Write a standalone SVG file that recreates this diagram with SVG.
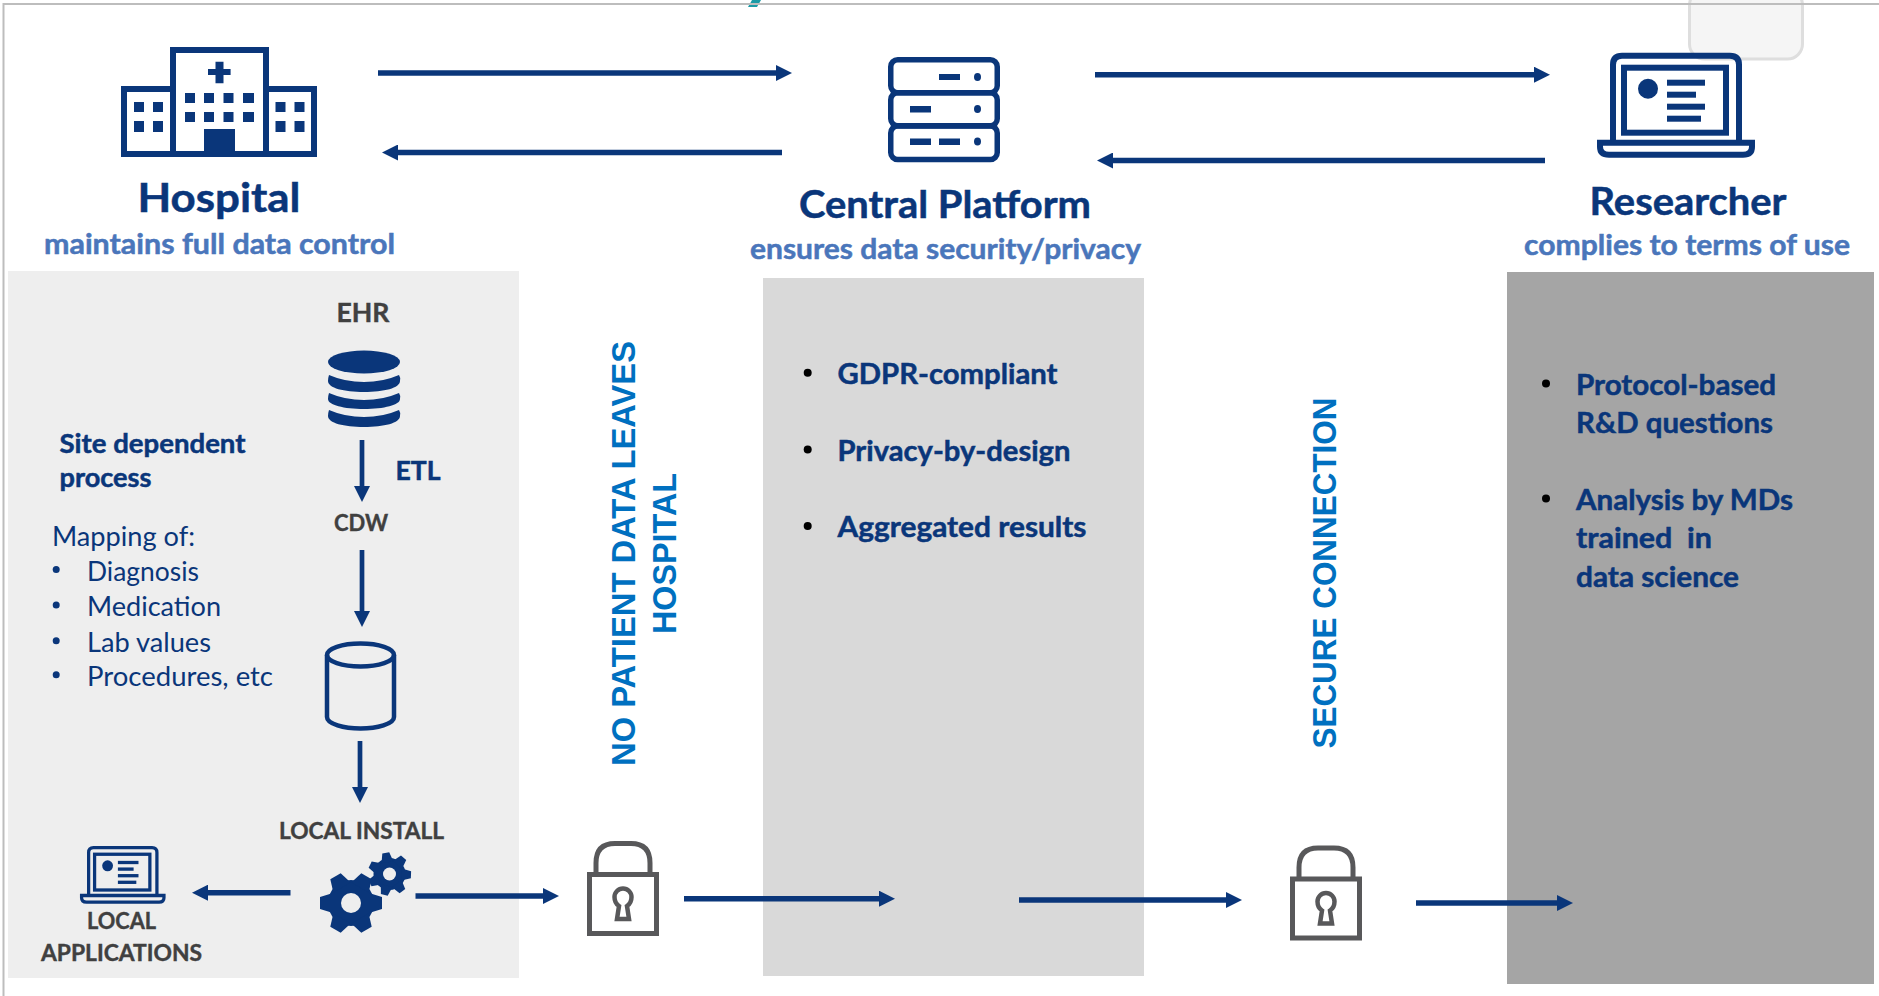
<svg xmlns="http://www.w3.org/2000/svg" xmlns:xlink="http://www.w3.org/1999/xlink" width="1879" height="996" viewBox="0 0 1879 996">
<style>
text{font-family:"Lato","Carlito","Open Sans",sans-serif}
.t{fill:#0a367a;stroke:#0a367a;stroke-width:.5px;font-weight:700;text-anchor:start}
.title{font-size:41px}
.sub{fill:#4a76bb;stroke:#4a76bb;stroke-width:.5px;font-weight:700;font-size:28px}
.item{fill:#0a367a;stroke:#0a367a;stroke-width:.5px;font-weight:700;font-size:28px}
.reg{fill:#0a367a;font-weight:400;font-size:27px}
.grey{fill:#404040;stroke:#404040;stroke-width:.4px;font-weight:700;font-size:23px}
.vert{fill:#0070c0;font-weight:700;font-size:34px;font-family:"Liberation Sans",Arial,sans-serif}
.blue{fill:#0a367a}
.ol{fill:none;stroke:#0a367a}
.line{stroke:#0a367a;fill:none}
.lk{fill:none;stroke:#58585a;stroke-width:5}
</style>
<defs>
<marker id="ah" markerUnits="userSpaceOnUse" markerWidth="16" markerHeight="16" refX="1" refY="8" orient="auto"><path d="M0,0L16,8L0,16Z" fill="#0a367a"/></marker>
<g id="laptop">
<path class="ol" stroke-width="6" d="M3,88V12Q3,3 12,3H120Q129,3 129,12V88"/>
<rect class="ol" stroke-width="6" x="14" y="15" width="102" height="65"/>
<path class="ol" stroke-width="6" d="M-10,90H142V94Q142,102 133,102H-1Q-10,102 -10,94Z"/>
<circle class="blue" cx="38" cy="36" r="10"/>
<rect class="blue" x="57" y="27" width="38" height="6"/>
<rect class="blue" x="57" y="39" width="29" height="6"/>
<rect class="blue" x="57" y="51" width="38" height="6"/>
<rect class="blue" x="57" y="63" width="34" height="6"/>
</g>
<path id="tooth" class="blue" d="M-6,-31H6L10,-18H-10Z"/>
<g id="gearBig">
<circle class="blue" r="23"/>
<use xlink:href="#tooth" href="#tooth" transform="rotate(30)"/>
<use xlink:href="#tooth" href="#tooth" transform="rotate(90)"/>
<use xlink:href="#tooth" href="#tooth" transform="rotate(150)"/>
<use xlink:href="#tooth" href="#tooth" transform="rotate(210)"/>
<use xlink:href="#tooth" href="#tooth" transform="rotate(270)"/>
<use xlink:href="#tooth" href="#tooth" transform="rotate(330)"/>
<circle r="10" fill="#eeeeee"/>
</g>
<path id="toothS" class="blue" d="M-3.5,-21.5H3.5L6,-12H-6Z"/>
<g id="gearSmall">
<circle class="blue" r="16"/>
<use xlink:href="#toothS" href="#toothS" transform="rotate(-10)"/>
<use xlink:href="#toothS" href="#toothS" transform="rotate(41)"/>
<use xlink:href="#toothS" href="#toothS" transform="rotate(92)"/>
<use xlink:href="#toothS" href="#toothS" transform="rotate(143)"/>
<use xlink:href="#toothS" href="#toothS" transform="rotate(194)"/>
<use xlink:href="#toothS" href="#toothS" transform="rotate(245)"/>
<use xlink:href="#toothS" href="#toothS" transform="rotate(296)"/>
<circle r="6.5" fill="#eeeeee"/>
</g>
<g id="lock">
<rect class="lk" x="2.5" y="33.5" width="67" height="59"/>
<path class="lk" d="M9,33V22Q9,2.5 28,2.5H44Q63,2.5 63,22V33"/>
<path fill="#ffffff" stroke="#58585a" stroke-width="4.500" d="M32,65Q27.500,62 27.500,56A8.500,8.500 0 0 1 44.500,56Q44.500,62 40,65L42,78H30Z"/>
</g>
</defs>

<rect width="1879" height="996" fill="#ffffff"/>
<path d="M748,7L752,0H761L757,7Z" fill="#1b9aa6"/>
<rect x="1689.500" y="-10" width="113" height="69" rx="15" fill="#f5f5f5" stroke="#dedede" stroke-width="3"/>
<path d="M3.500,996V4H1879" fill="none" stroke="#bdbdbd" stroke-width="2"/>

<g id="panels">
<rect x="8" y="271" width="511" height="707" fill="#eeeeee"/>
<rect x="763" y="278" width="381" height="698" fill="#d9d9d9"/>
<rect x="1507" y="272" width="367" height="712" fill="#a5a5a5"/>
</g>

<g id="hospital">
<path class="ol" stroke-width="6" d="M173,154V50H266V154"/>
<path class="ol" stroke-width="6" d="M173,89H124V154H314V89H266"/>
<path class="blue" d="M215.500,61.700h8v7.300h7.100v6h-7.100v8.300h-8v-8.300h-7.500v-6h7.500z"/>
<path class="blue" d="M185,93h10v10h-10zM204,93h10v10h-10zM223.500,93h10v10h-10zM243,93h11v10h-11zM185,112h10v10h-10zM204,112h10v10h-10zM223.500,112h10v10h-10zM243,112h11v10h-11z"/>
<path class="blue" d="M134,102h10v10h-10zM153,102h10v10h-10zM134,121h10v11h-10zM153,121h10v11h-10zM275.500,102h10v10h-10zM294.500,102h10v10h-10zM275.500,121h10v11h-10zM294.500,121h10v11h-10z"/>
<rect class="blue" x="204" y="129" width="31" height="24"/>
<text class="t title" x="137.500" y="211.500" textLength="163" lengthAdjust="spacingAndGlyphs">Hospital</text>
<text class="sub" x="44" y="254" textLength="351" lengthAdjust="spacingAndGlyphs">maintains full data control</text>
</g>

<g id="central-platform">
<rect class="ol" stroke-width="5.500" x="890.750" y="59.750" width="106.500" height="33" rx="7"/>
<rect class="ol" stroke-width="5.500" x="890.750" y="92.750" width="106.500" height="33" rx="7"/>
<rect class="ol" stroke-width="5.500" x="890.750" y="126" width="106.500" height="33.500" rx="7"/>
<rect class="blue" x="939" y="74" width="21" height="6"/><ellipse class="blue" cx="977.500" cy="77" rx="3.500" ry="4"/>
<rect class="blue" x="910" y="106" width="21" height="6.500"/><ellipse class="blue" cx="977.500" cy="109" rx="3.500" ry="4"/>
<rect class="blue" x="910" y="138.500" width="21" height="6.500"/><rect class="blue" x="939" y="138.500" width="21" height="6.500"/><ellipse class="blue" cx="977.500" cy="141.500" rx="3.500" ry="4"/>
<text class="t title" x="799" y="218" textLength="292" lengthAdjust="spacingAndGlyphs" style="font-size:38px">Central Platform</text>
<text class="sub" x="750" y="259" textLength="391" lengthAdjust="spacingAndGlyphs">ensures data security/privacy</text>
</g>

<g id="researcher">
<use xlink:href="#laptop" href="#laptop" x="1610" y="52.700"/>
<text class="t title" x="1589.500" y="215" textLength="197" lengthAdjust="spacingAndGlyphs" style="font-size:38px">Researcher</text>
<text class="sub" x="1524" y="255" textLength="326" lengthAdjust="spacingAndGlyphs">complies to terms of use</text>
</g>

<g id="ehr">
<text class="grey" x="336.500" y="321.500" textLength="53" lengthAdjust="spacingAndGlyphs" style="font-size:26px">EHR</text>
<ellipse class="blue" cx="364" cy="362" rx="36" ry="11.500"/>
<path class="blue" d="M329,375Q345,382 364,382Q383,382 399,375Q401,378 400,381C400,388 384,392 364,392C344,392 328,388 328,381Q328,378 329,375Z"/>
<path class="blue" d="M329,393Q345,400 364,400Q383,400 399,393Q401,396 400,399C400,405 384,409 364,409C344,409 328,405 328,399Q328,396 329,393Z"/>
<path class="blue" d="M329,410Q345,417 364,417Q383,417 399,410Q401,413 400,416C400,423 384,427 364,427C344,427 328,423 328,416Q328,413 329,410Z"/>
</g>

<g id="site-text">
<text class="t" x="59.500" y="452.500" textLength="186" lengthAdjust="spacingAndGlyphs" style="font-size:27px">Site dependent</text>
<text class="t" x="59.500" y="487" textLength="92" lengthAdjust="spacingAndGlyphs" style="font-size:27px">process</text>
<text class="reg" x="52" y="545.500" textLength="143" lengthAdjust="spacingAndGlyphs">Mapping of:</text>
<circle class="blue" cx="56.200" cy="569.500" r="3.500"/><text class="reg" x="87" y="580.500" textLength="112" lengthAdjust="spacingAndGlyphs">Diagnosis</text>
<circle class="blue" cx="56.200" cy="605" r="3.500"/><text class="reg" x="87" y="616" textLength="134" lengthAdjust="spacingAndGlyphs">Medication</text>
<circle class="blue" cx="56.200" cy="640.700" r="3.500"/><text class="reg" x="87" y="651.500" textLength="124" lengthAdjust="spacingAndGlyphs">Lab values</text>
<circle class="blue" cx="56.200" cy="674.700" r="3.500"/><text class="reg" x="87" y="685.500" textLength="186" lengthAdjust="spacingAndGlyphs">Procedures, etc</text>
</g>

<g id="etl-label"><text class="t" x="395.500" y="480" textLength="45" lengthAdjust="spacingAndGlyphs" style="font-size:26px">ETL</text></g>
<g id="cdw"><text class="grey" x="334" y="531" textLength="54" lengthAdjust="spacingAndGlyphs">CDW</text></g>

<g id="cylinder">
<path class="ol" stroke-width="4.500" d="M327,655V717C327,724 344,728.500 360.500,728.500C377,728.500 394,724 394,717V655"/>
<ellipse class="ol" stroke-width="4.500" cx="360.500" cy="655" rx="33.500" ry="11.500"/>
</g>

<g id="local-install">
<text class="grey" x="279" y="839" textLength="165" lengthAdjust="spacingAndGlyphs">LOCAL INSTALL</text>
<use xlink:href="#gearBig" href="#gearBig" x="351" y="903"/>
<use xlink:href="#gearSmall" href="#gearSmall" x="389.500" y="874"/>
</g>

<g id="local-applications">
<use xlink:href="#laptop" href="#laptop" transform="translate(87,846) scale(.542,.55)"/>
<text class="grey" x="87" y="929" textLength="69" lengthAdjust="spacingAndGlyphs">LOCAL</text>
<text class="grey" x="41" y="961" textLength="161" lengthAdjust="spacingAndGlyphs">APPLICATIONS</text>
</g>

<g id="lock-1"><use xlink:href="#lock" href="#lock" x="587" y="841"/></g>
<g id="lock-2"><use xlink:href="#lock" href="#lock" x="1290" y="845.500"/></g>

<g id="no-patient-label">
<text class="vert" transform="translate(634.500,766) rotate(-90)" textLength="425" lengthAdjust="spacingAndGlyphs">NO PATIENT DATA LEAVES</text>
<text class="vert" transform="translate(675.500,634) rotate(-90)" textLength="161" lengthAdjust="spacingAndGlyphs">HOSPITAL</text>
</g>
<g id="secure-label">
<text class="vert" transform="translate(1336,748.500) rotate(-90)" textLength="351" lengthAdjust="spacingAndGlyphs">SECURE CONNECTION</text>
</g>

<g id="platform-list">
<circle cx="807.700" cy="372.700" r="4"/><text class="item" x="837.500" y="384" textLength="220" lengthAdjust="spacingAndGlyphs">GDPR-compliant</text>
<circle cx="807.700" cy="449.500" r="4"/><text class="item" x="837.500" y="460.500" textLength="233" lengthAdjust="spacingAndGlyphs">Privacy-by-design</text>
<circle cx="807.700" cy="526" r="4"/><text class="item" x="837.500" y="537" textLength="249" lengthAdjust="spacingAndGlyphs">Aggregated results</text>
</g>

<g id="researcher-list">
<circle cx="1546" cy="383.500" r="4"/>
<text class="item" x="1576" y="395" textLength="200" lengthAdjust="spacingAndGlyphs">Protocol-based</text>
<text class="item" x="1576" y="433" textLength="197" lengthAdjust="spacingAndGlyphs">R&amp;D questions</text>
<circle cx="1546" cy="498.500" r="4"/>
<text class="item" x="1576" y="510" textLength="217" lengthAdjust="spacingAndGlyphs">Analysis by MDs</text>
<text class="item" x="1576" y="548" textLength="136" lengthAdjust="spacingAndGlyphs" xml:space="preserve">trained  in</text>
<text class="item" x="1576" y="587" textLength="163" lengthAdjust="spacingAndGlyphs">data science</text>
</g>

<g id="connectors" class="line" stroke-width="5.500">
<line x1="378" y1="73" x2="777" y2="73" marker-end="url(#ah)"/>
<line x1="782" y1="152.500" x2="397" y2="152.500" marker-end="url(#ah)"/>
<line x1="1095" y1="74.700" x2="1535" y2="74.700" marker-end="url(#ah)"/>
<line x1="1545" y1="160.500" x2="1112" y2="160.500" marker-end="url(#ah)"/>
<line x1="362" y1="440" x2="362" y2="487" stroke-width="4.700" marker-end="url(#ah)"/>
<line x1="362" y1="550" x2="362" y2="612" stroke-width="4.700" marker-end="url(#ah)"/>
<line x1="360" y1="741" x2="360" y2="788" stroke-width="4.700" marker-end="url(#ah)"/>
<line x1="290.500" y1="892.700" x2="207" y2="892.700" marker-end="url(#ah)"/>
<line x1="415.500" y1="896" x2="544" y2="896" marker-end="url(#ah)"/>
<line x1="684" y1="898.700" x2="880" y2="898.700" marker-end="url(#ah)"/>
<line x1="1019" y1="900" x2="1227" y2="900" marker-end="url(#ah)"/>
<line x1="1416" y1="903" x2="1558" y2="903" marker-end="url(#ah)"/>
</g>
</svg>
